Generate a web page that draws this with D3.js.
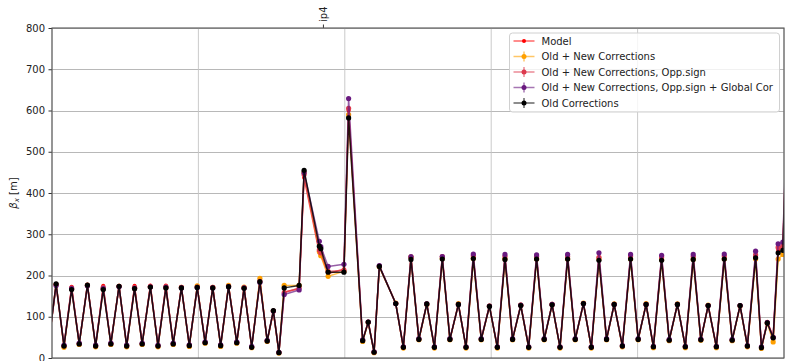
<!DOCTYPE html>
<html>
<head>
<meta charset="utf-8">
<script src="https://cdn.jsdelivr.net/npm/d3@7"></script>
<style>
  body { margin: 0; background: #fff; }
  text { font-family: "DejaVu Sans", sans-serif; }
</style>
</head>
<body>
<script>
// longitudinal position s [m], relative to the left edge of the window
const sPos = [-13,14,41,67,93,121,149,175,201,229,255,282,308,336,362,389,414,442,469,496,
  523,549,576,603,631,656,682,710,735,756,775,793,844,861,913,918,943,997,1013,1061,
  1080,1100,1118,1174,1200,1226,1253,1280,1306,1333,1359,1388,1414,1439,1466,1494,1521,1547,1573,1601,
  1628,1655,1681,1708,1735,1761,1787,1815,1842,1868,1894,1920,1948,1976,2002,2029,2054,2082,2108,2136,
  2163,2190,2216,2241,2269,2296,2323,2350,2375,2403,2423,2443,2463,2480,2496,2514];

const betaModel = [27,180,29,173,34,178,29,175,34,175,29,175,34,176,29,176,34,172,30,172,
  37,172,30,175,37,171,26,187,41,112,13,160,168,437,255,250,205,215,600,42,
  88,14,222,132,26,241,45,131,26,242,45,130,26,243,45,126,26,242,45,128,
  26,243,45,130,26,243,45,132,26,241,45,130,29,243,45,130,27,241,43,130,
  27,242,44,127,27,243,43,127,29,246,25,88,52,262,268,660];

const betaOldNew = [25,178,26,167,33,176,27,167,33,174,27,169,33,172,27,171,33,171,28,175,
  36,171,28,176,36,172,25,193,40,114,12,176,176,450,258,248,198,210,590,40,
  86,13,221,133,24,245,44,130,24,241,44,132,24,241,44,126,24,240,44,128,
  24,240,44,130,24,240,44,133,24,240,44,131,27,240,44,132,25,238,42,131,
  25,239,43,128,25,240,42,126,27,240,23,84,39,240,251,630];

const betaOpp = [27,178,30,170,35,176,30,171,35,174,30,171,35,174,30,173,35,171,31,172,
  38,171,31,174,38,170,27,186,42,114,14,158,170,445,262,255,210,213,605,43,
  87,15,223,132,27,244,46,131,27,246,46,130,27,248,46,126,27,246,46,128,
  27,246,46,130,27,246,46,132,27,244,46,130,30,247,46,130,28,245,44,130,
  28,246,45,127,28,247,44,127,30,250,26,86,50,268,272,660];

const betaOppGlobal = [28,176,31,168,36,175,31,168,36,173,31,169,36,172,31,171,36,170,32,171,
  39,170,32,173,39,170,28,183,43,114,14,154,165,450,283,270,222,227,629,44,
  87,15,224,132,27,246,47,131,27,246,47,130,27,252,47,126,27,251,47,128,
  27,250,47,130,27,251,47,132,27,255,47,130,30,251,47,130,28,249,45,130,
  28,251,46,127,28,252,45,127,30,259,27,86,50,277,281,680];

const betaOld = [27,180,29,166,34,177,29,166,34,174,29,168,34,172,29,170,34,170,30,171,
  37,170,30,173,37,169,26,185,41,115,13,170,176,455,271,265,208,208,582,42,
  87,14,222,132,26,239,45,131,26,240,45,130,26,241,45,125,26,239,45,127,
  26,240,45,129,26,240,45,132,26,237,45,130,29,240,45,130,27,237,43,130,
  27,239,44,127,27,240,43,127,29,243,25,85,49,255,261,650];

const seriesNames = ["Model", "Old + New Corrections", "Old + New Corrections, Opp.sign",
  "Old + New Corrections, Opp.sign + Global Cor", "Old Corrections"];
const seriesValues = [betaModel, betaOldNew, betaOpp, betaOppGlobal, betaOld];
const seriesColors = ["#ff0000", "#ffa000", "#dc3a4e", "#6a1a80", "#000000"];

const yTicks = [0,100,200,300,400,500,600,700,800];
const xGridTicks = [0,500,1000,1500,2000,2500];
const topTickPos = [927];
const topTickLabels = ["ip4"];

const margin = {top: 28, right: 16, bottom: 3, left: 52};
const width = 800 - margin.left - margin.right;
const height = 361 - margin.top - margin.bottom;

var svg = d3.select("body")
            .append("svg")
            .attr("width", 800)
            .attr("height", 361);

var g = svg.append("g")
           .attr("transform", "translate(" + margin.left + "," + margin.top + ")");

var x = d3.scaleLinear().domain([0, 2500]).range([0, width]);
var y = d3.scaleLinear().domain([0, 800]).range([height, 0]);

// grid
g.append("g")
 .selectAll("line")
 .data(yTicks)
 .enter()
 .append("line")
 .attr("x1", 0).attr("x2", width)
 .attr("y1", d => Math.round(y(d)) + 0.5).attr("y2", d => Math.round(y(d)) + 0.5)
 .attr("stroke", "#b0b0b0")
 .attr("stroke-width", 0.9);

g.append("g")
 .selectAll("line")
 .data(xGridTicks)
 .enter()
 .append("line")
 .attr("x1", d => x(d)).attr("x2", d => x(d))
 .attr("y1", 0).attr("y2", height)
 .attr("stroke", "#c4c4c4")
 .attr("stroke-width", 0.9);

// data
svg.append("clipPath")
   .attr("id", "plotclip")
   .append("rect")
   .attr("width", width)
   .attr("height", height);

var plot = g.append("g").attr("clip-path", "url(#plotclip)");

var line = d3.line()
             .x((d, i) => x(sPos[i]))
             .y(d => y(d));

seriesValues.forEach(function(vals, k) {
    plot.append("path")
        .datum(vals)
        .attr("fill", "none")
        .attr("stroke", seriesColors[k])
        .attr("stroke-opacity", k == 4 ? 0.8 : 0.7)
        .attr("stroke-width", 1.5)
        .attr("stroke-linejoin", "round")
        .attr("d", line);

    plot.selectAll(".pt" + k)
        .data(vals)
        .enter()
        .append("circle")
        .attr("class", "pt" + k)
        .attr("cx", (d, i) => x(sPos[i]))
        .attr("cy", d => y(d))
        .attr("r", k == 0 ? 2 : 2.6)
        .attr("fill", seriesColors[k]);
});

// left axis
var yAxis = d3.axisLeft(y)
              .tickValues(yTicks)
              .tickSize(3.5)
              .tickPadding(3.5);

var yAx = g.append("g").call(yAxis);
yAx.select(".domain").remove();
yAx.selectAll("line").attr("stroke", "#333");
yAx.selectAll("text")
   .attr("font-size", "10px")
   .attr("font-family", "DejaVu Sans")
   .attr("fill", "#222");

// top axis with the ip4 marker
var topAx = g.append("g");
topAx.selectAll("line")
     .data(topTickPos)
     .enter()
     .append("line")
     .attr("x1", d => x(d)).attr("x2", d => x(d))
     .attr("y1", 0).attr("y2", -3.5)
     .attr("stroke", "#333");
topAx.selectAll("text")
     .data(topTickPos)
     .enter()
     .append("text")
     .attr("transform", d => "translate(" + x(d) + ",-6) rotate(-90)")
     .attr("dy", "0.35em")
     .attr("font-size", "10px")
     .attr("fill", "#222")
     .text((d, i) => topTickLabels[i]);

// frame
g.append("rect")
 .attr("width", width)
 .attr("height", height)
 .attr("fill", "none")
 .attr("stroke", "#555")
 .attr("stroke-width", 1.1);

// y label
svg.append("text")
   .attr("transform", "translate(17," + (margin.top + height / 2) + ") rotate(-90)")
   .attr("text-anchor", "middle")
   .attr("font-size", "10px")
   .attr("fill", "#222")
   .call(function(t) {
       t.append("tspan").attr("font-style", "italic").text("β");
       t.append("tspan").attr("font-style", "italic").attr("font-size", "7px").attr("dy", "2").text("x");
       t.append("tspan").attr("dy", "-2").text(" [m]");
   });

// legend
var leg = svg.append("g").attr("transform", "translate(509.5,33)");
leg.append("rect")
   .attr("width", 270)
   .attr("height", 79)
   .attr("rx", 3)
   .attr("fill", "#fff")
   .attr("fill-opacity", 0.8)
   .attr("stroke", "#d0d0d0");

seriesNames.forEach(function(name, k) {
    var ly = 8 + k * 15.5;
    var e = leg.append("g").attr("transform", "translate(0," + ly + ")");
    e.append("line")
     .attr("x1", 4).attr("x2", 25)
     .attr("stroke", seriesColors[k])
     .attr("stroke-opacity", 0.6)
     .attr("stroke-width", 1.5);
    if (k > 0) {
        e.append("line")
         .attr("x1", 14.5).attr("x2", 14.5)
         .attr("y1", -5).attr("y2", 5)
         .attr("stroke", seriesColors[k])
         .attr("stroke-opacity", 0.6)
         .attr("stroke-width", 1.5);
    }
    e.append("circle")
     .attr("cx", 14.5)
     .attr("r", k == 0 ? 2 : 2.5)
     .attr("fill", seriesColors[k]);
    e.append("text")
     .attr("x", 32)
     .attr("dy", "0.35em")
     .attr("font-size", "10px")
     .attr("fill", "#222")
     .text(name);
});
</script>
</body>
</html>
